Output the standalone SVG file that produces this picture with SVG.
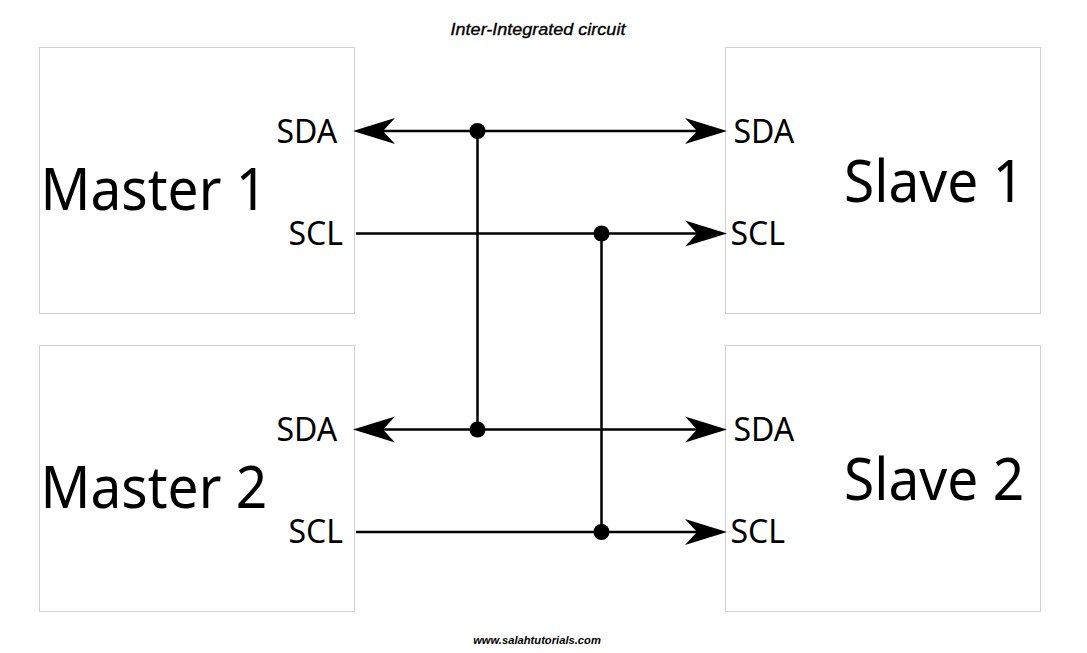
<svg xmlns="http://www.w3.org/2000/svg" width="1087" height="653" viewBox="0 0 1087 653">
<style>
.box{fill:#fff;stroke:#d3d3d3;stroke-width:1}
.big{font-family:"Noto Sans","Open Sans",sans-serif;font-size:58px;fill:#000}
.pin{font-family:"Noto Sans","Open Sans",sans-serif;font-size:32px;fill:#000}
.w{fill:none;stroke:#000;stroke-width:2.5}
.dot{fill:#000}
.cap{font-family:"Liberation Sans",Arial,sans-serif;font-style:italic;fill:#000}
</style>
<defs>
<path id="ar" d="M1 0Q-20-6.500-41-13L-29 0L-41 13Q-20 6.500 1 0Z" fill="#000"/>
</defs>
<rect width="1087" height="653" fill="#fff"/>
<text class="cap" transform="translate(538 35) scale(1.06 1)" font-size="17" stroke="#000" stroke-width="0.35" text-anchor="middle">Inter-Integrated circuit</text>
<g id="master1"><rect class="box" x="39.500" y="47.500" width="315" height="266"/><text class="big" transform="translate(40.500 209.500) scale(.95 1)">Master 1</text><text class="pin" x="276.500" y="142.500">SDA</text><text class="pin" x="288.500" y="244.500">SCL</text></g>
<g id="slave1"><rect class="box" x="725.500" y="47.500" width="315" height="266"/><text class="big" transform="translate(844 201.500) scale(.95 1)">Slave 1</text><text class="pin" x="733.500" y="142.500">SDA</text><text class="pin" x="730.500" y="244.500">SCL</text></g>
<g id="master2"><rect class="box" x="39.500" y="345.500" width="315" height="266"/><text class="big" transform="translate(40.500 507.500) scale(.95 1)">Master 2</text><text class="pin" x="276.500" y="440.500">SDA</text><text class="pin" x="288.500" y="543">SCL</text></g>
<g id="slave2"><rect class="box" x="725.500" y="345.500" width="315" height="266"/><text class="big" transform="translate(844 499.500) scale(.95 1)">Slave 2</text><text class="pin" x="733.500" y="440.500">SDA</text><text class="pin" x="730.500" y="543">SCL</text></g>
<g id="connectors">
<path class="w" d="M380 131H700M356 233.500H700M380 429.500H700M356 532H700M477.500 131V429.500M601.500 233.500V532"/>
<use href="#ar" transform="translate(354 131) rotate(180)"/>
<use href="#ar" transform="translate(726 131)"/>
<use href="#ar" transform="translate(726 233.500)"/>
<use href="#ar" transform="translate(354 429.500) rotate(180)"/>
<use href="#ar" transform="translate(726 429.500)"/>
<use href="#ar" transform="translate(726 532)"/>
<circle class="dot" cx="477.500" cy="131" r="8"/>
<circle class="dot" cx="601.500" cy="233.500" r="8"/>
<circle class="dot" cx="477.500" cy="429.500" r="8"/>
<circle class="dot" cx="601.500" cy="532" r="8"/>
</g>
<text class="cap" x="537" y="644" font-size="11.200" font-weight="bold" text-anchor="middle">www.salahtutorials.com</text>
</svg>
